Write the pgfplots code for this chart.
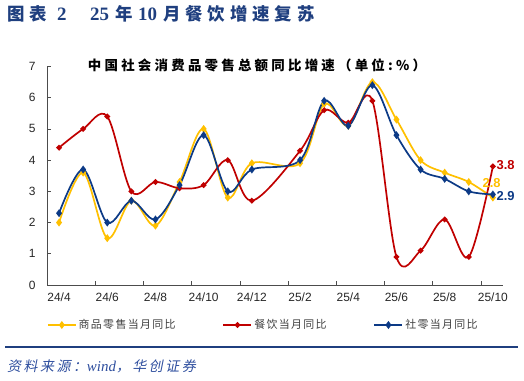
\documentclass[border=0pt]{standalone}
\usepackage{fontspec}
\usepackage{pgfplots}
\pgfplotsset{compat=1.18}
\setmainfont{Liberation Sans}
\newfontfamily\serifb{Liberation Serif}
\newfontfamily\cjkt[LetterSpace=28]{Noto Sans CJK SC}
\newfontfamily\cjkp[LetterSpace=24]{Noto Sans CJK SC}
\newfontfamily\cjkl[LetterSpace=12]{Noto Sans CJK SC}
\newfontfamily\cjks[LetterSpace=18,FakeSlant=0.2]{Noto Sans CJK SC}
\definecolor{cY}{HTML}{FFC000}
\definecolor{cR}{HTML}{C00000}
\definecolor{cB}{HTML}{0C3A86}
\definecolor{tB}{HTML}{1F3F7F}
\definecolor{sB}{HTML}{2E4E9E}
\definecolor{lG}{HTML}{404040}
\pgfplotstableread{
x goods cater total
0 2.0 4.4 2.3
1 3.6 5.0 3.7
2 1.5 5.4 2.0
3 2.7 3.0 2.7
4 1.9 3.3 2.1
5 3.3 3.1 3.2
6 5.0 3.2 4.8
7 2.8 4.0 3.0
8 3.9 2.7 3.7
10 3.9 4.3 4.0
11 5.8 5.6 5.9
12 5.1 5.2 5.1
13 6.5 5.9 6.4
14 5.3 0.9 4.8
15 4.0 1.1 3.7
16 3.6 2.1 3.4
17 3.3 0.9 3.0
18 2.8 3.8 2.9
}\data
\begin{document}
\begin{tikzpicture}
\path[use as bounding box] (0,0) rectangle (524bp,381bp);
\begin{scope}[every node/.style={text=tB, inner sep=0pt, anchor=base west}]
\node at (7bp,360bp) {\fontsize{17.5}{18}\selectfont\bfseries\cjkt 图表};
\node at (57bp,360bp) {\fontsize{19}{19}\selectfont\bfseries\serifb 2};
\node at (90bp,360bp) {\fontsize{19}{19}\selectfont\bfseries\serifb 25};
\node at (115bp,360bp) {\fontsize{17.5}{18}\selectfont\bfseries\cjkt 年};
\node at (138bp,360bp) {\fontsize{19}{19}\selectfont\bfseries\serifb 10};
\node at (163bp,360bp) {\fontsize{17.5}{18}\selectfont\bfseries\cjkt 月餐饮增速复苏};
\end{scope}
\begin{axis}[
  at={(47bp,96bp)}, anchor=south west, scale only axis,
  width=456bp, height=218.5bp,
  xmin=-0.5, xmax=18.42, ymin=0, ymax=7,
  clip=false,
  axis x line*=bottom, axis y line*=left,
  axis line style={draw=black!70, line width=0.6bp, -},
  tick align=inside,
  major tick length=4bp, minor tick length=4bp,
  tick style={draw=black!70, line width=0.6bp},
  xtick={0,2,...,18},
  xticklabels={24/4,24/6,24/8,24/10,24/12,25/2,25/4,25/6,25/8,25/10},
  major x tick style={draw=none},
  minor xtick={-0.5,1.5,...,17.5},
  ytick={0,1,...,7},
  /pgf/number format/assume math mode=true,
  ticklabel style={font=\fontsize{12}{14}\selectfont, text=black!85},
  yticklabel style={xshift=-8bp},
  xticklabel style={yshift=-4bp},
  legend style={at={(0bp,-40bp)}, anchor=west, draw=none, fill=none,
    font=\fontsize{11}{13}\selectfont\cjkl\color{lG}, legend columns=3,
    /tikz/every even column/.append style={column sep=45bp},
    inner sep=0pt, outer sep=0pt},
  legend image code/.code={\draw[#1, mark repeat=2, mark phase=2] plot coordinates {(0bp,0bp) (14bp,0bp) (28bp,0bp)};},
  every axis plot/.append style={line width=1.7bp, smooth, tension=0.55},
]
\addplot[cY, mark=diamond*, mark size=2.6bp, mark options={solid}] table[x=x,y=goods]{\data};
\addlegendentry{商品零售当月同比}
\addplot[cR, mark=*, mark size=1.9bp] table[x=x,y=cater]{\data};
\addlegendentry{餐饮当月同比}
\addplot[cB, mark=diamond*, mark size=2.6bp] table[x=x,y=total]{\data};
\addlegendentry{社零当月同比}
\node[text=cR, anchor=west, inner sep=0pt, font=\bfseries\fontsize{13}{14}\selectfont] at (axis cs:18.15,3.83) {3.8};
\node[text=cY, anchor=center, inner sep=0pt, font=\bfseries\fontsize{13}{14}\selectfont] at (axis cs:17.95,3.28) {2.8};
\node[text=cB, anchor=west, inner sep=0pt, font=\bfseries\fontsize{13}{14}\selectfont] at (axis cs:18.15,2.86) {2.9};
\end{axis}
\node[text=black, inner sep=0pt] at (257bp,316bp)
  {\fontsize{13.5}{15}\selectfont\bfseries\cjkp 中国社会消费品零售总额同比增速（单位:\%）};
\draw[tB, line width=2bp] (5bp,34bp) -- (518bp,34bp);
\node[anchor=west, text=sB, inner sep=0pt] at (7bp,15bp)
  {\fontsize{14}{16}\selectfont\cjks 资料来源：{\serifb\itshape\fontsize{15}{16}\selectfont wind}，华创证券};
\end{tikzpicture}
\end{document}
